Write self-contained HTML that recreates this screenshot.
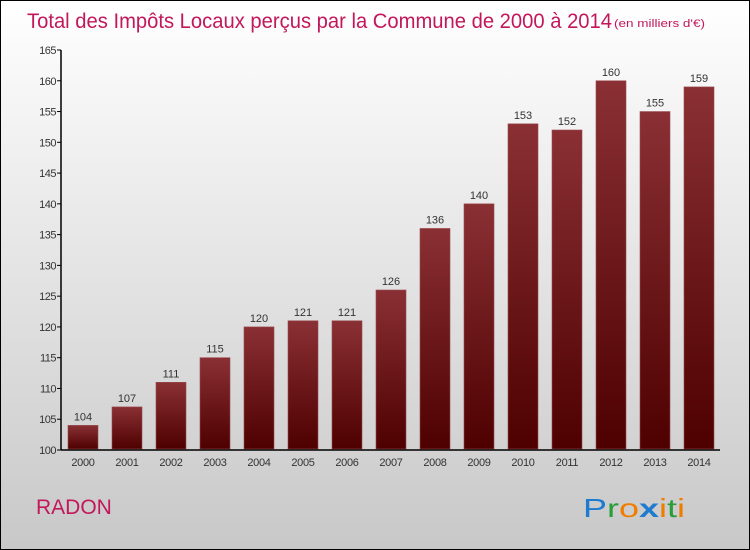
<!DOCTYPE html>
<html><head><meta charset="utf-8"><style>
body{margin:0;width:750px;height:550px;overflow:hidden}
svg{display:block;font-family:"Liberation Sans",sans-serif}
</style></head><body>
<svg width="750" height="550">
<defs>
<linearGradient id="bg" x1="0" y1="0" x2="0" y2="1"><stop offset="0" stop-color="#ffffff"/><stop offset="1" stop-color="#c8c8c8"/></linearGradient>
<linearGradient id="bar" x1="0" y1="0" x2="0" y2="1"><stop offset="0" stop-color="#8a3035"/><stop offset="1" stop-color="#4e0000"/></linearGradient>
</defs>
<rect x="0.5" y="0.5" width="749" height="549" fill="url(#bg)" stroke="#000"/>
<text x="27" y="28" font-size="21" fill="#c2185b" textLength="585" lengthAdjust="spacingAndGlyphs">Total des Impôts Locaux perçus par la Commune de 2000 à 2014</text>
<text x="614" y="27" font-size="11" fill="#c2185b" textLength="91" lengthAdjust="spacingAndGlyphs">(en milliers d'€)</text>
<g id="plot"></g>
<text x="36" y="514" font-size="21" fill="#c2185b">RADON</text>
<text x="583" y="517" font-size="26" textLength="102" lengthAdjust="spacingAndGlyphs"><tspan fill="#1e7bd0">P</tspan><tspan fill="#2a9d3a">r</tspan><tspan fill="#f07d00">o</tspan><tspan fill="#1e7bd0" font-weight="bold">x</tspan><tspan fill="#f07d00">i</tspan><tspan fill="#2a9d3a">t</tspan><tspan fill="#f07d00">i</tspan></text>
</svg>
<script>
const years=["2000","2001","2002","2003","2004","2005","2006","2007","2008","2009","2010","2011","2012","2013","2014"];
const values=[104,107,111,115,120,121,121,126,136,140,153,152,160,155,159];
const yTicks=[100,105,110,115,120,125,130,135,140,145,150,155,160,165];
const NS="http://www.w3.org/2000/svg",g=document.getElementById('plot');
const y=v=>450-(v-100)*400/65, x=i=>83+i*44;
function mk(t,a,txt){const e=document.createElementNS(NS,t);for(const k in a)e.setAttribute(k,a[k]);if(txt!=null)e.textContent=txt;g.appendChild(e);return e;}
yTicks.forEach(v=>{
 const l=mk('line',{x1:57,x2:61,y1:y(v),y2:y(v),stroke:'#000'});
 
 
 const t=mk('text',{x:56,y:y(v)+4,'font-size':11,'text-anchor':'end',fill:'#333','letter-spacing':'-0.5'},v);
 
 
});
values.forEach((v,i)=>{
 const r=mk('rect',{x:x(i)-15,y:y(v),width:30,height:449-y(v),fill:'url(#bar)',stroke:'#9a4a4e','stroke-width':0.6});
 
 
 const t=mk('text',{x:x(i),y:y(v)-5,'font-size':11,'text-anchor':'middle',fill:'#333'},v);
 
 
 const xl=mk('text',{x:x(i),y:466,'font-size':11,'text-anchor':'middle',fill:'#333','letter-spacing':'-0.3'},years[i]);
 
 
});
const ya=mk('line',{x1:61,x2:61,y1:50,y2:450,stroke:'#000','stroke-width':1.5});


const xa=mk('line',{x1:61,x2:720,y1:450,y2:450,stroke:'#000','stroke-width':1.5});


</script>
</body></html>
